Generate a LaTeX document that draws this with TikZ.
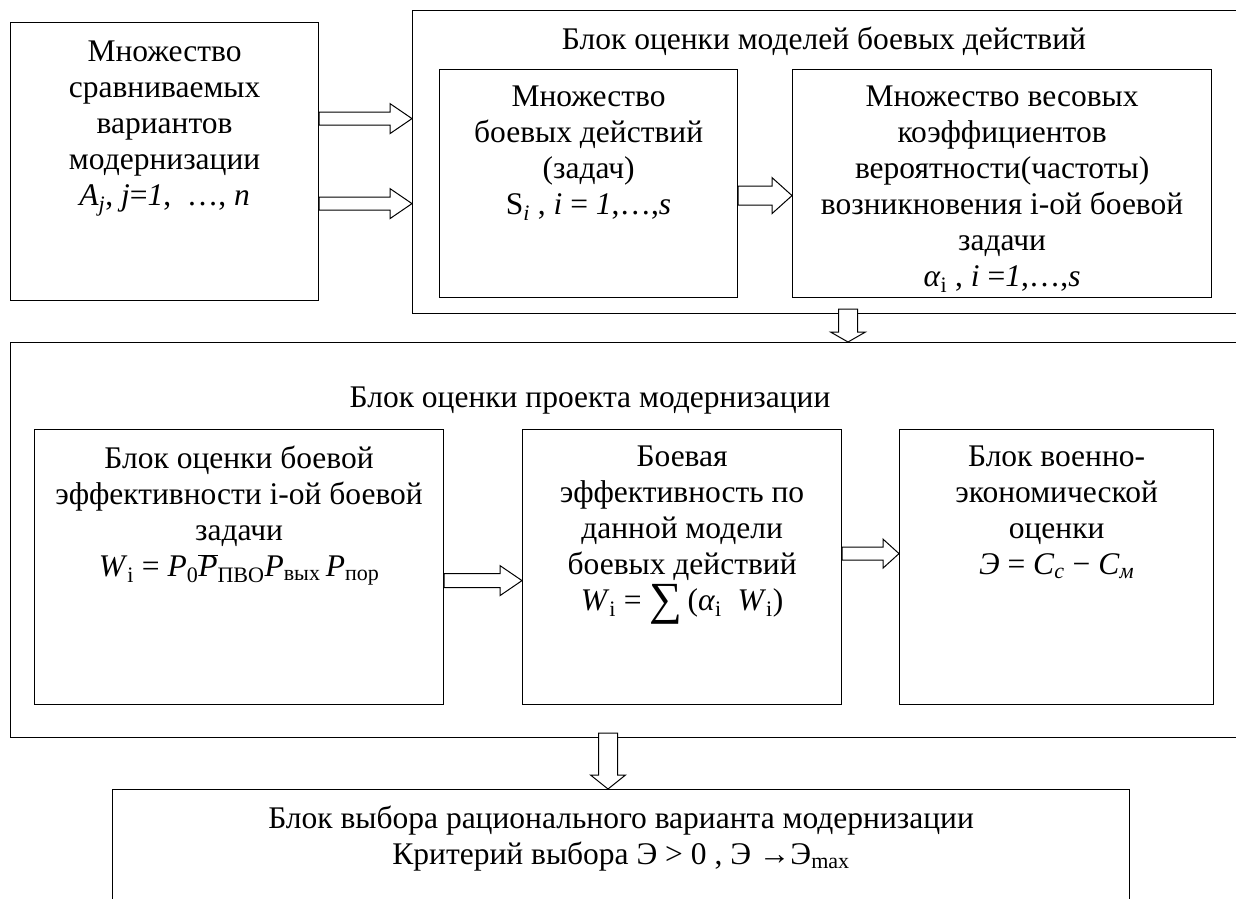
\documentclass[tikz,border=0pt]{standalone}
\usepackage{fontspec}
\setmainfont{Liberation Serif}
\usetikzlibrary{positioning, calc}

% hollow block arrow: tail, tip, half shaft, half head, head length
\newcommand{\hollowarrow}[5]{%
  \path ($(#2)!#5!(#1)$) coordinate (hn);
  \draw[harr] ($(#1)!#3!90:(#2)$) -- ($(hn)!#3!90:(#2)$) -- ($(hn)!#4!90:(#2)$)
    -- (#2) -- ($(hn)!#4!-90:(#2)$) -- ($(hn)!#3!-90:(#2)$)
    -- ($(#1)!#3!-90:(#2)$) -- cycle;
}

\begin{document}
\begin{tikzpicture}[
    x=1pt, y=-1pt,
    box/.style  = {draw, line width=1.2pt, inner sep=0pt, anchor=north west},
    txt/.style  = {align=center, inner sep=0pt,
                   font=\fontsize{31.5}{36}\selectfont},
    harr/.style = {draw, fill=white, line width=1pt, line join=miter},
  ]
  \useasboundingbox (0,0) rectangle (1236,898);
  \clip (0,0) rectangle (1236,898);

  % boxes
  \node[box, minimum width=308pt, minimum height=278pt] (setA) at (10,22) {};
  \node[box, minimum width=834pt, minimum height=303pt] (models) at (412,10) {};
  \node[box, minimum width=298pt, minimum height=228pt] (setS) at (439,69) {};
  \node[box, minimum width=419pt, minimum height=228pt] (weights) at (792,69) {};
  \node[box, minimum width=1236pt, minimum height=395pt] (project) at (10,342) {};
  \node[box, minimum width=409pt, minimum height=275pt] (effI) at (34,429) {};
  \node[box, minimum width=319pt, minimum height=275pt] (effModel) at (522,429) {};
  \node[box, minimum width=314pt, minimum height=275pt] (econ) at (899,429) {};
  \node[box, minimum width=1017pt, minimum height=130pt] (choice) at (112,789) {};

  % texts
  \node[txt, below=19pt of setA.north] (setAText)
    {Множество\\сравниваемых\\вариантов\\модернизации\\
     \textit{A}\textsubscript{\textit{j}}, \textit{j}=\textit{1}, \ …, \textit{n}};
  \node[txt, anchor=north] (modelsTitle) at (824,27)
    {Блок оценки моделей боевых действий};
  \node[txt, below=17pt of setS.north] (setSText)
    {Множество\\боевых действий\\(задач)\\
     S\textsubscript{\textit{i}} , \textit{i} = \textit{1},…,\textit{s}};
  \node[txt, below=17pt of weights.north] (weightsText)
    {Множество весовых\\коэффициентов\\вероятности(частоты)\\возникновения i-ой боевой\\задачи\\
     \textit{α}\textsubscript{i} , \textit{i} =\textit{1},…,\textit{s}};
  \node[txt, anchor=north] (projectTitle) at (590,387)
    {Блок оценки проекта модернизации};
  \node[txt, below=17pt of effI.north] (effIText)
    {Блок оценки боевой\\эффективности i-ой боевой\\задачи\\
     \textit{W}\textsubscript{i} = \textit{P}\textsubscript{0}$\overline{\hbox{\textit{P}}}$\textsubscript{ПВО}\textit{P}\textsubscript{вых}\,\textit{P}\textsubscript{пор}};
  \node[txt, below=17pt of effModel.north] (effModelText)
    {Боевая\\эффективность по\\данной модели\\боевых действий\\
     \textit{W}\textsubscript{i} = \raisebox{-0.12em}{\fontsize{46}{46}\selectfont ∑}\,(\textit{α}\textsubscript{i}\ \ \textit{W}\textsubscript{i})};
  \node[txt, below=17pt of econ.north] (econText)
    {Блок военно-\\экономической\\оценки\\
     \textit{Э} = \textit{C}\textsubscript{\textit{с}} − \textit{C}\textsubscript{\textit{м}}};
  \node[txt, below=17pt of choice.north] (choiceText)
    {Блок выбора рационального варианта модернизации\\
     Критерий выбора Э > 0 , Э →Э\textsubscript{max}};

  % arrow ends
  \coordinate (a1) at ([yshift=43pt]setA.east);
  \coordinate (a1t) at (a1 -| models.west);
  \coordinate (a2) at ([yshift=-42pt]setA.east);
  \coordinate (a2t) at (a2 -| models.west);
  \coordinate (s1) at ([yshift=-12pt]setS.east);
  \coordinate (s1t) at (s1 -| weights.west);
  \coordinate (v1) at (848,309);
  \coordinate (v1t) at (v1 |- project.north);
  \coordinate (e1) at ([yshift=-13.5pt]effI.east);
  \coordinate (e1t) at (e1 -| effModel.west);
  \coordinate (e2) at ([yshift=13.5pt]effModel.east);
  \coordinate (e2t) at (e2 -| econ.west);
  \coordinate (v2) at (608,733);
  \coordinate (v2t) at (v2 |- choice.north);

  % arrows
  \hollowarrow{a1}{a1t}{6.5pt}{15pt}{22pt}
  \hollowarrow{a2}{a2t}{6.5pt}{15pt}{22pt}
  \hollowarrow{s1}{s1t}{9.5pt}{18pt}{20pt}
  \hollowarrow{v1}{v1t}{9.5pt}{17.5pt}{10pt}
  \hollowarrow{e1}{e1t}{7pt}{15pt}{22pt}
  \hollowarrow{e2}{e2t}{6.5pt}{14.5pt}{16pt}
  \hollowarrow{v2}{v2t}{9.5pt}{17.5pt}{14pt}
\end{tikzpicture}
\end{document}
